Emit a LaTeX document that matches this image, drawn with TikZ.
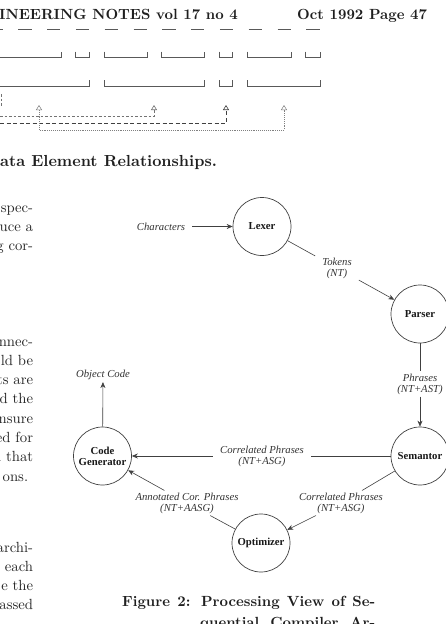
\documentclass[tikz,border=0pt]{standalone}
\usepackage{fontspec}
\newfontfamily\figfont{Liberation Serif}
\newfontfamily\cmten[BoldFont=lmroman10-bold.otf]{lmroman10-regular.otf}
\usetikzlibrary{arrows.meta}
\begin{document}
\begin{tikzpicture}[x=1pt,y=-1pt,
  hdr/.style={font=\cmten\fontsize{14.7}{17}\selectfont\bfseries, inner sep=0, text=black!88},
  sechd/.style={font=\cmten\fontsize{16}{19}\selectfont\bfseries, inner sep=0, text=black!88},
  body/.style={font=\cmten\fontsize{14.7}{19}\selectfont, inner sep=0, anchor=base east, text=black!85},
  proc/.style={circle, draw=black!75, line width=0.7pt, minimum size=58pt, inner sep=0,
    font=\figfont\fontsize{10.7}{11}\selectfont\bfseries, align=center, text=black!90},
  lbl/.style={font=\figfont\fontsize{10.7}{11}\selectfont\itshape, align=center,
    inner xsep=7pt, inner ysep=2pt, text=black!80},
  flow/.style={draw=black!75, line width=0.6pt},
  tip/.style={-{Stealth[length=6pt,width=5pt]}},
  brk/.style={draw=black!65, line width=0.7pt},
  upa/.style={-{Triangle[open,length=5pt,width=6pt]}},
  dashA/.style={draw=black!55, line width=0.6pt, dash pattern=on 2.5pt off 2pt},
  dashB/.style={draw=black!75, line width=0.6pt, dash pattern=on 4pt off 2.5pt},
  dotC/.style={draw=black!50, line width=0.5pt, dash pattern=on 0.8pt off 1.1pt}
]
\useasboundingbox (0,0) rectangle (446,624);
\fill[white] (0,0) rectangle (446,624);

% header
\node[hdr, anchor=base east] (h1) at (238,19) {INEERING NOTES vol 17 no 4};
\node[hdr, anchor=base west] (h2) at (297,19) {Oct 1992 Page 47};

% top data element diagram (fragment)
\draw[draw=black!65, line width=0.8pt, dash pattern=on 13.3pt off 15.5pt] (-10.5,29) -- (319.6,29);
\foreach \a/\b in {-5/61, 75.3/89.3, 104/147.7, 161.7/204.3, 219/232.7, 247.7/291.7, 305.7/320}
  {\draw[brk] (\a,51.7) -- (\a,57.7) -- (\b,57.7) -- (\b,51.7);}
\foreach \a/\b in {-5/89.3, 104/204.3, 219/232.7, 247.7/320}
  {\draw[brk] (\a,80.3) -- (\a,86.7) -- (\b,86.7) -- (\b,80.3);}
\coordinate (ta) at (39,105);
\coordinate (tb) at (154,105);
\coordinate (tc) at (226,105);
\coordinate (td) at (284,105);
\coordinate (sa) at (0,116);
\coordinate (sb) at (0,123);
\coordinate (cc) at (284,130);
\coordinate (ea) at (1,94);
\coordinate (eb) at (1,106);
\draw[dashA] (ea) -- (eb);
\draw[dashA, upa] (sa) -| (tb);
\draw[dashB, upa] (sb) -| (tc);
\draw[dotC, {Triangle[open,length=5pt,width=6pt]}-{Triangle[open,length=5pt,width=6pt]}] (ta) |- (cc) -- (td);

\node[sechd, anchor=base west] (sec) at (0,166) {ata Element Relationships.};

% body text fragments
\node[body] (t1) at (33.3,212.5) {spec-};
\node[body] (t2) at (33.3,231.7) {uce a};
\node[body] (t3) at (33.3,250.9) {g cor-};
\node[body] (t4) at (33.3,346) {nnec-};
\node[body] (t5) at (33.3,365.2) {ld be};
\node[body] (t6) at (33.3,384.6) {ts are};
\node[body] (t7) at (33.3,403.9) {d the};
\node[body] (t8) at (33.3,423.2) {nsure};
\node[body] (t9) at (33.3,442.4) {ed for};
\node[body] (t10) at (33.3,461.7) {l that};
\node[body] (t11) at (28.3,481) {ons.};
\node[body] (t12) at (33.3,552) {archi-};
\node[body] (t13) at (33.3,571.3) {each};
\node[body] (t14) at (33.3,590.5) {e the};
\node[body] (t15) at (33.3,609.7) {assed};

% figure 2
\node[proc] (lexer) at (262,226.5) {Lexer};
\node[proc] (parser) at (420,314) {Parser};
\node[proc] (seman) at (420,456) {Semantor};
\node[proc] (optim) at (261,543) {Optimizer};
\node[proc] (codegen) at (102.5,456) {Code\\Generator};

\node[lbl] (chars) at (161,226.5) {Characters};
\node[lbl] (tok) at (337,268) {Tokens\\(NT)};
\node[lbl] (phr) at (420,384) {Phrases\\(NT+AST)};
\node[lbl] (corr1) at (262,456) {Correlated Phrases\\(NT+ASG)};
\node[lbl] (corr2) at (341,503) {Correlated Phrases\\(NT+ASG)};
\node[lbl] (ann) at (187,503) {Annotated Cor. Phrases\\(NT+AASG)};
\node[lbl] (obj) at (103,375) {Object Code};

\draw[flow,tip] (chars) -- (lexer);
\draw[flow] (lexer) -- (tok);
\draw[flow,tip] (tok) -- (parser);
\draw[flow] (parser) -- (phr);
\draw[flow,tip] (phr) -- (seman);
\draw[flow] (seman) -- (corr1);
\draw[flow,tip] (corr1) -- (codegen);
\draw[flow] (seman) -- (corr2);
\draw[flow,tip] (corr2) -- (optim);
\draw[flow] (optim) -- (ann);
\draw[flow,tip] (ann) -- (codegen);
\draw[flow,tip] (codegen) -- (obj);

% caption
\node[hdr, anchor=base west] (cap1) at (122,606) {\makebox[253pt][s]{Figure 2: Processing View of Se-}};
\node[hdr, anchor=base west] (cap2) at (200,627) {\makebox[175pt][s]{quential Compiler Ar-}};
\end{tikzpicture}
\end{document}
